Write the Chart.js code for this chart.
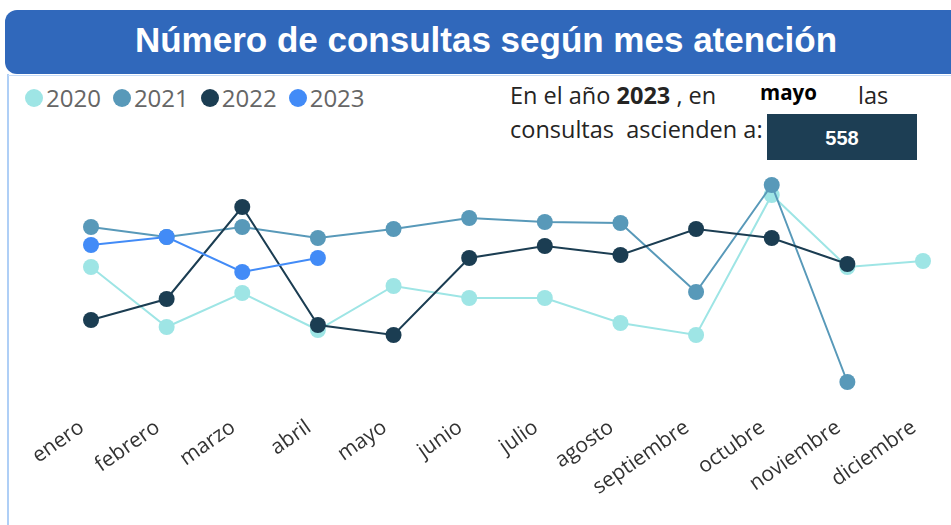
<!DOCTYPE html>
<html>
<head>
<meta charset="utf-8">
<script src="https://cdn.jsdelivr.net/npm/chart.js@4.4.0/dist/chart.umd.min.js"></script>
<style>
  body { margin: 0; width: 951px; height: 525px; overflow: hidden; background: #fff; position: relative; font-family: 'Open Sans', sans-serif; }
  #titulo { position: absolute; left: 5px; top: 10px; width: 980px; height: 64px; background: #3068BB; border-radius: 12px; }
  #titulo span { position: absolute; left: 0; width: 962px; top: 0; text-align: center; color: #fff; font: bold 35px 'Liberation Sans', Arial, sans-serif; line-height: 60px; }
  #borde-izq { position: absolute; left: 7px; top: 74px; width: 2px; height: 460px; background: #AFCFF6; }
  #borde-sup { position: absolute; left: 8px; top: 75px; width: 943px; height: 1px; background: #C6DCF8; }
  #leyenda { position: absolute; left: 25px; top: 81px; display: flex; font-size: 24px; color: #666; }
  #leyenda div { display: flex; align-items: center; margin-right: 12px; }
  #leyenda i { display: inline-block; width: 18px; height: 18px; border-radius: 50%; margin-right: 3px; }
  .txt { position: absolute; font-size: 23.5px; color: #252423; white-space: pre; }
  #caja { position: absolute; left: 767px; top: 114px; width: 150px; height: 46px; background: #1D3E54; color: #fff; font: bold 20px 'Liberation Sans', Arial, sans-serif; text-align: center; line-height: 48px; }
  canvas { position: absolute; left: 10px; top: 80px; }
</style>
</head>
<body>
<div id="titulo"><span>Número de consultas según mes atención</span></div>
<div id="borde-izq"></div>
<div id="borde-sup"></div>
<div id="leyenda"></div>
<div class="txt" style="left:510px; top:79px;">En el año <b>2023</b> , en</div>
<div class="txt" style="left:760px; top:78px; font-size:20.5px; font-weight:bold; color:#000;">mayo</div>
<div class="txt" style="left:858px; top:79px;">las</div>
<div class="txt" style="left:510px; top:113px;">consultas  ascienden a:</div>
<div id="caja">558</div>
<canvas id="grafico" width="941" height="445"></canvas>
<script>
const meses = ['enero', 'febrero', 'marzo', 'abril', 'mayo', 'junio', 'julio', 'agosto', 'septiembre', 'octubre', 'noviembre', 'diciembre'];

const consultas2020 = [536, 416, 484, 410, 498, 474, 474, 424, 400, 680, 536, 548];
const consultas2021 = [616, 596, 616, 594, 612, 634, 626, 624, 486, 700, 306, null];
const consultas2022 = [430, 472, 656, 420, 400, 554, 578, 560, 612, 594, 542, null];
const consultas2023 = [580, 596, 526, 554, null, null, null, null, null, null, null, null];

const anios = ['2020', '2021', '2022', '2023'];
const colores = ['#9EE5E5', '#5899B9', '#1B3D52', '#428BF7'];
const series = [consultas2020, consultas2021, consultas2022, consultas2023];

const datasets = series.map((data, i) => ({
  label: anios[i],
  data,
  borderColor: colores[i],
  backgroundColor: colores[i],
  pointBackgroundColor: colores[i],
  pointBorderWidth: 0,
  pointRadius: 8,
  borderWidth: 2,
  tension: 0,
  order: 4 - i // 2023 queda encima
}));

const chart = new Chart(document.getElementById('grafico').getContext('2d'), {
  type: 'line',
  data: { labels: meses, datasets },
  options: {
    responsive: false,
    animation: false,
    layout: { padding: { left: 81, right: 28, top: 80, bottom: 0 } },
    plugins: {
      legend: { display: false },
      tooltip: { enabled: false }
    },
    scales: {
      x: {
        offset: false,
        grid: { display: false },
        border: { display: false },
        ticks: {
          color: '#333333',
          font: { family: 'Open Sans', size: 21 },
          minRotation: 35,
          maxRotation: 35,
          autoSkip: false,
          padding: 2,
          labelOffset: -9
        },
        afterFit: scale => { scale.height = 120; }
      },
      y: { display: false, min: 260, max: 750 }
    }
  }
});

// leyenda en HTML a partir de los datasets
const leyenda = document.getElementById('leyenda');
chart.data.datasets.forEach(ds => {
  const item = document.createElement('div');
  item.innerHTML = `<i style="background:${ds.borderColor}"></i>${ds.label}`;
  leyenda.appendChild(item);
});
</script>
</body>
</html>
